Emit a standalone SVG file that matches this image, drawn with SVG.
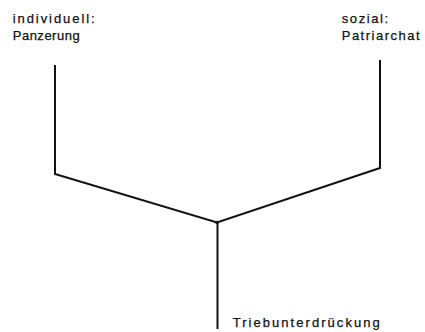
<svg xmlns="http://www.w3.org/2000/svg" width="425" height="332" viewBox="0 0 425 332">
<style>
.lbl{font-family:"Liberation Sans",Arial,sans-serif;font-size:13px;fill:#111;stroke:#111;stroke-width:0.25}
.ln{fill:none;stroke:#111;stroke-width:2;stroke-linejoin:miter}
</style>
<rect width="425" height="332" fill="#fff"/>
<g id="connectors">
<polyline class="ln" points="55,65 55,174 217,222.5 380,168 380,60"/>
<line class="ln" x1="217.5" y1="222" x2="217.5" y2="329"/>
<circle cx="217" cy="222.5" r="1.8" fill="#111"/>
</g>
<g id="node-individuell">
<text class="lbl" x="12.7" y="23.3" textLength="82" lengthAdjust="spacing">individuell:</text>
<text class="lbl" x="12.7" y="39.5" textLength="67" lengthAdjust="spacing">Panzerung</text>
</g>
<g id="node-sozial">
<text class="lbl" x="341.7" y="23.3" textLength="46.5" lengthAdjust="spacing">sozial:</text>
<text class="lbl" x="341.7" y="39.5" textLength="78" lengthAdjust="spacing">Patriarchat</text>
</g>
<g id="node-trieb">
<text class="lbl" x="232.7" y="327.3" textLength="147" lengthAdjust="spacing">Triebunterdrückung</text>
</g>
</svg>
